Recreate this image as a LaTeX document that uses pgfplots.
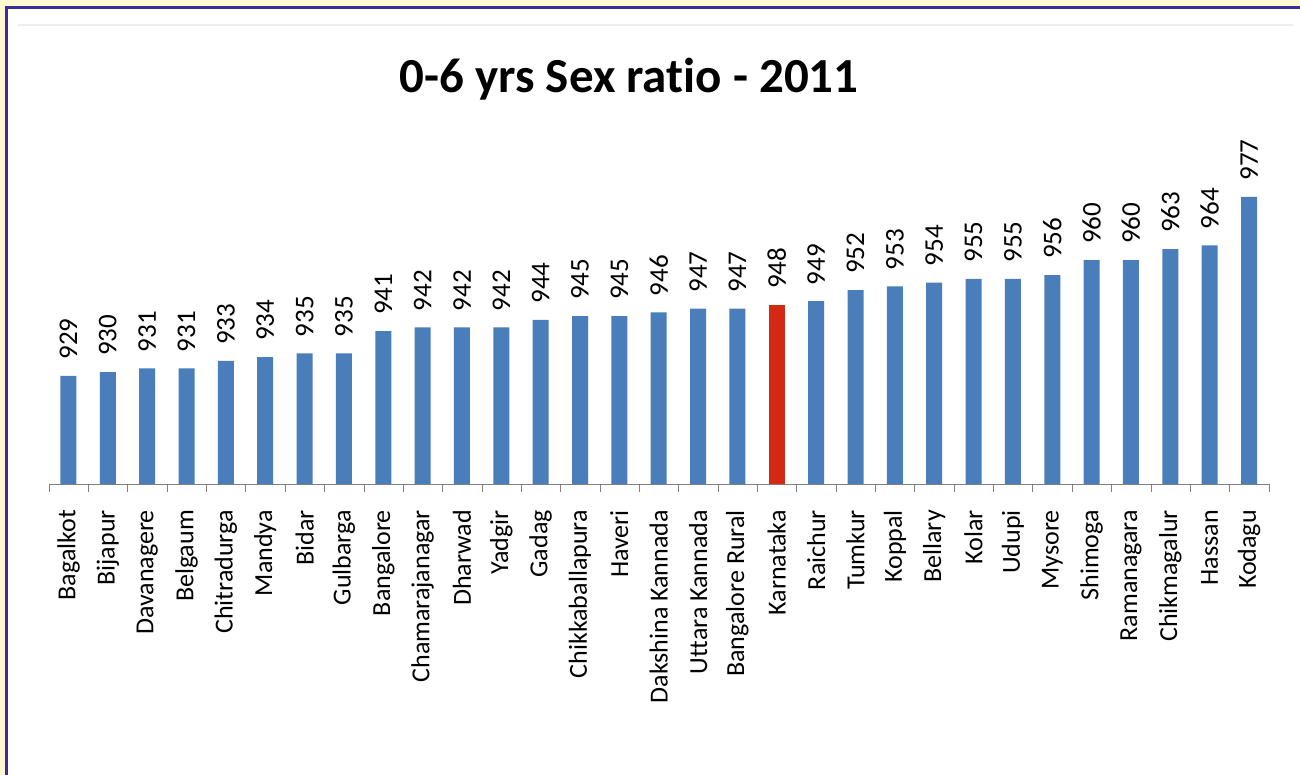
\documentclass[border=0pt]{standalone}
\usepackage{pgfplots}
\pgfplotsset{compat=1.18}
\usepackage{fontspec}
\setmainfont{Carlito}[Ligatures=NoCommon]
\definecolor{barblue}{RGB}{74,126,187}
\definecolor{barred}{RGB}{210,40,20}
\definecolor{bgyellow}{RGB}{255,247,210}
\definecolor{frameblue}{RGB}{58,44,150}
\begin{document}
\begin{tikzpicture}[x=1pt,y=1pt]
\path[use as bounding box] (0,0) rectangle (1300,775);
\fill[bgyellow] (0,0) rectangle (1300,775);
\fill[white] (6,0) rectangle (1300,767);
\draw[frameblue, line width=3pt] (6,0) -- (6,767) -- (1300,767);
\draw[black!7, line width=2pt] (18,750) -- (1293,750);
\node[anchor=base, font=\fontsize{49}{49}\selectfont\bfseries] at (629,682) {0-6 yrs Sex ratio - 2011};
\begin{axis}[
  at={(48.8pt,291pt)}, anchor=south west, scale only axis,
  width=1219.9pt, height=373pt,
  ymin=900, ymax=1000, xmin=-0.5, xmax=30.5,
  axis x line=bottom, axis y line=none, axis line style={-, gray},
  xtick={0,...,30}, major tick length=0pt,
  xticklabels={Bagalkot,Bijapur,Davanagere,Belgaum,Chitradurga,Mandya,Bidar,Gulbarga,Bangalore,Chamarajanagar,Dharwad,Yadgir,Gadag,Chikkaballapura,Haveri,Dakshina Kannada,Uttara Kannada,Bangalore Rural,Karnataka,Raichur,Tumkur,Koppal,Bellary,Kolar,Udupi,Mysore,Shimoga,Ramanagara,Chikmagalur,Hassan,Kodagu},
  minor xtick={-0.5,0.5,...,30.5}, minor tick length=8pt, tick align=outside,
  minor tick style={gray},
  xticklabel style={rotate=90, anchor=east, inner xsep=26pt, inner ysep=0pt, font=\fontsize{26}{26}\selectfont},
  /pgf/number format/assume math mode=true,
  nodes near coords,
  every node near coord/.append style={rotate=90, anchor=west, inner xsep=16pt, inner ysep=0pt, font=\fontsize{27}{27}\selectfont, black},
]
\addplot[ybar, bar width=16pt, bar shift=0pt, fill=barblue, draw=none] coordinates {
(0,929) (1,930) (2,931) (3,931) (4,933) (5,934) (6,935) (7,935) (8,941) (9,942)
(10,942) (11,942) (12,944) (13,945) (14,945) (15,946) (16,947) (17,947)
(19,949) (20,952) (21,953) (22,954) (23,955) (24,955) (25,956) (26,960) (27,960)
(28,963) (29,964) (30,977)};
\addplot[ybar, bar width=16pt, bar shift=0pt, fill=barred, draw=none] coordinates {(18,948)};
\end{axis}
\end{tikzpicture}
\end{document}
